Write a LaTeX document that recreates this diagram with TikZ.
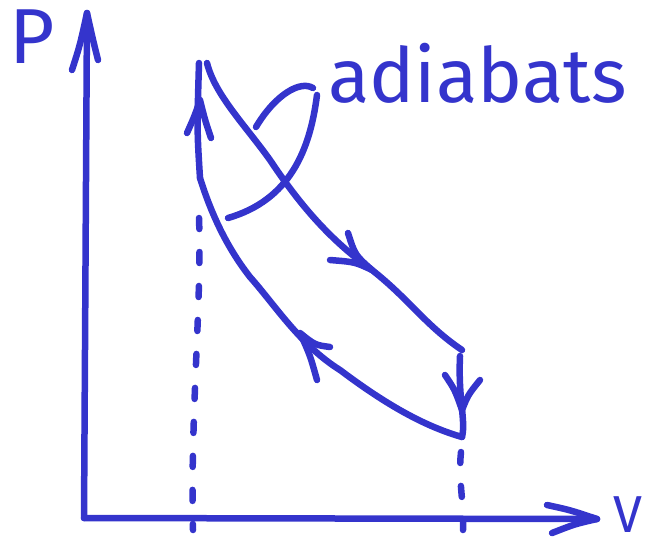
\documentclass[tikz,border=0pt]{standalone}
\usepackage{fontspec}
\setmainfont{Fira Sans}
\usetikzlibrary{positioning}
\definecolor{penblue}{RGB}{52,52,204}

\begin{document}
\begin{tikzpicture}[
  x=1pt, y=-1pt,
  ink/.style={draw=penblue, line width=6.5pt, line cap=round, line join=round},
  guide/.style={ink, dash pattern=on 11pt off 23pt},
  lbl/.style={text=penblue, inner sep=0pt},
]
\useasboundingbox (0,0) rectangle (652,541);

% axes
\coordinate (O) at (84,518);
\coordinate (ptop) at (87,13);
\coordinate (vend) at (597,519);
\draw[ink] (O) -- (ptop);
\draw[ink] (O) -- (vend);
\draw[ink] (72,70) .. controls (80,45) .. (ptop) .. controls (93,40) .. (98,60);
\draw[ink] (547,505) .. controls (570,510) .. (vend) .. controls (575,524) .. (552,533);
\node[lbl, font=\fontsize{78}{78}\selectfont, anchor=north west] (p) at (9,10) {P};
\node[lbl, font=\fontsize{52}{52}\selectfont, anchor=south east] (v) at (643,533) {V};

% cycle corners
\coordinate (a) at (200,178);
\coordinate (b) at (199,63);
\coordinate (bb) at (207,63);
\coordinate (c) at (462,350);
\coordinate (d) at (462,437);

% heating (up), expansion, cooling (down), compression
\draw[ink] (a) .. controls (197,130) .. (b);
\draw[ink] (187,133) .. controls (195,115) .. (200,100) .. controls (205,120) .. (211,138);
\draw[ink] (bb) .. controls (215,95) and (245,125) .. (270,160)
  .. controls (300,205) and (330,240) .. (372,270)
  .. controls (410,300) and (425,325) .. (c);
\draw[ink] (330,260) .. controls (355,262) .. (372,270) .. controls (355,255) .. (348,233);
\draw[ink] (460,356) .. controls (458,400) and (466,420) .. (d);
\draw[ink] (445,375) .. controls (455,390) .. (462,410) .. controls (468,395) .. (480,380);
\draw[ink] (d) .. controls (420,425) and (380,400) .. (340,370)
  .. controls (300,345) and (275,305) .. (250,277)
  .. controls (225,245) and (210,210) .. (a);
\draw[ink] (330,347) .. controls (315,345) .. (300,333) .. controls (310,355) .. (317,380);

% projections onto the V axis
\draw[guide] (199,218) .. controls (202,300) and (190,420) .. (193,530);
\draw[guide] (461,452) .. controls (458,480) and (464,500) .. (463,530);

% label with its two leader strokes
\node[lbl, font=\fontsize{76}{76}\selectfont, anchor=base west] (adb) at (328,102) {adiabats};
\draw[ink] (256,127) .. controls (275,95) and (300,80) .. (313,88);
\draw[ink] (317,95) .. controls (310,150) and (290,200) .. (228,218);
\end{tikzpicture}
\end{document}
